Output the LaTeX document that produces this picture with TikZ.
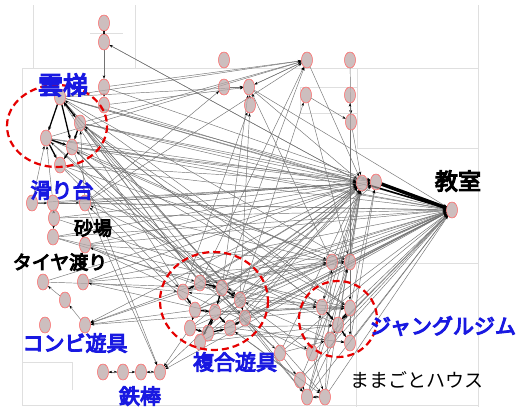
\documentclass[tikz,border=0pt]{standalone}
\usepackage{fontspec}
\newfontfamily\cjk{Noto Sans CJK JP}
\newfontfamily\cjkb{Noto Sans CJK JP}[FakeBold=5]
\usetikzlibrary{shapes.geometric,arrows.meta}
\definecolor{nodefill}{RGB}{205,190,190}
\definecolor{labblue}{RGB}{25,25,225}
\tikzset{
  nd/.style={ellipse,draw=red!55,fill=nodefill,minimum width=11pt,minimum height=16pt,inner sep=0pt,line width=0.4pt},
  edge/.style={draw=black!55,line width=0.45pt,-{Stealth[length=3.5pt,width=2.5pt,black]}},
  thk/.style={draw=black,line width=1.3pt,-{Stealth[length=4pt,width=3pt]}},
  grid/.style={draw=gray!25,line width=0.6pt},
  ring/.style={draw=red!90!black,line width=2.2pt,dash pattern=on 7pt off 4pt},
  bluelab/.style={text=labblue,font=\cjkb\fontsize{21}{21}\selectfont,inner sep=0pt},
  blacklab/.style={text=black,font=\cjkb\fontsize{19}{19}\selectfont,inner sep=0pt}
}
\begin{document}
\begin{tikzpicture}[x=1pt,y=-1pt]
\useasboundingbox (0,0) rectangle (520,407);
\fill[white] (0,0) rectangle (520,407);
% faint background frames
\draw[grid] (33,5)--(33,68) (135,5)--(135,68) (22,68)--(478,68) (478,5)--(478,407)
  (22,68)--(22,405) (22,405)--(478,405) (90,33)--(123,33)
  (300,87) rectangle (357,113) (357,68)--(357,148) (357,148)--(478,148)
  (327,263)--(478,263) (356,263)--(356,407) (22,362)--(72,362)--(72,390);
% nodes
\foreach \n/\x/\y in {t1/104/23,t2/104/42,t3/104/87,t4/104/105,
  u1/224/60,u2/224/87,u3/249/87,u4/250/105,
  v1/307/60,v2/350/60,v3/306/95,v4/350/95,v5/351/122,
  h1/362/183,h2/376/182,r1/452/210,
  a1/60/97,a2/80/123,a3/46/138,a4/72/147,a5/60/165,
  s1/32/203,s2/53/203,s3/85/203,s4/54/218,s5/53/237,s6/85/245,
  k1/43/282,k2/83/282,k3/65/300,k4/45/325,k5/85/325,
  b1/103/372,b2/123/372,b3/141/372,b4/160/372,
  c1/183/292,c2/200/283,c3/222/288,c4/240/300,c5/195/310,c6/215/312,
  c7/190/328,c8/208/333,c9/230/328,c10/245/318,c11/200/342,
  j1/332/262,j2/350/262,j3/322/307,j4/350/308,j5/338/325,j6/330/340,j7/350/343,
  m1/280/353,m2/312/353,m3/300/380,m4/307/397,m5/325/397}
  \node[nd] (\n) at (\x,\y) {};
% edges
\foreach \a/\b in {t1/t2,t2/t1,t2/t3,t3/t4,t2/h1,h1/t2,t4/u3,t3/v1,t4/h1,t3/h2,
  u2/u3,u3/v1,v1/u3,u4/u3,v3/v5,v2/v5,v4/v5,v5/h1,u3/h1,v3/j2,v1/h1,u3/r1,
  a1/h1,a1/r1,a2/h1,a2/r1,a3/h1,a4/h1,a4/j1,a4/c3,a2/c4,a1/u3,a3/v1,a1/j2,
  a2/j4,a4/r1,a5/h1,a5/c1,a3/m1,a1/v1,a2/v1,a5/r1,a4/h2,a2/j3,a1/m5,a2/m4,
  a1/h2,a3/r1,a5/j2,a2/h2,a4/j4,a3/j1,a5/m2,a1/c4,a4/c10,
  s1/s2,s2/s3,s2/s4,s4/s5,s3/h1,s3/r1,s3/j1,s2/h1,s5/h1,s5/c2,s6/h2,s6/c4,
  s4/j3,s1/a3,s2/a3,s3/a2,s3/v1,s6/r1,s5/j4,s3/u2,s2/r1,s4/h1,s5/r1,s1/h1,
  s3/h2,s6/j2,s4/r1,
  k3/k1,k5/k3,k2/r1,k2/c1,c1/k5,c2/k5,c5/k5,h1/k5,j3/k5,k2/h1,k1/c3,k2/j1,k1/h1,
  b1/b2,b2/b1,b2/b3,b3/b4,b4/b3,a4/b4,s3/b4,c7/b4,h1/b4,r1/b4,
  c1/h1,c2/h1,c3/h1,c3/h2,c4/h1,c4/r1,c5/r1,c6/j3,c6/j4,c7/j5,c8/j6,c9/j7,
  c10/r1,c2/v1,c3/u3,c1/u4,c4/v3,c9/m5,c10/m4,c2/a2,c1/a1,c5/s3,c6/k2,
  c11/r1,c7/h1,c8/h2,c5/j1,c11/j5,c9/h1,c6/r1,c3/v1,c4/u4,c1/r1,c2/r1,
  c1/j1,c2/j2,c4/j3,c10/j4,c7/r1,c8/r1,c9/r1,c3/r1,c5/h1,c10/h1,c2/a1,c3/a3,
  j1/j2,j3/j4,j3/j5,j4/j5,j5/j6,j6/j7,j4/j7,j1/j3,j2/j4,
  j1/h1,j2/h1,j1/r1,j2/r1,j3/r1,j4/r1,j5/r1,j6/r1,j7/r1,j1/u3,j2/v4,
  j3/a2,j4/a1,j5/s3,j6/c4,j3/c3,j5/h1,j7/h2,j6/h1,j3/h1,j4/h2,j1/c2,j4/c1,
  m1/m3,m3/m4,m4/m5,m5/m4,m2/m5,m5/r1,m4/r1,m5/j1,m4/j2,m2/h1,m1/h1,
  m3/c9,m1/a4,m2/s6,m2/r1,m1/r1,m3/r1,m4/h1,m5/h1,m2/j3,m1/j6,m3/j2,m4/j4}
  \draw[edge] (\a) -- (\b);
% thick edges
\foreach \a/\b in {a1/a3,a3/a4,a1/a4,a2/a4,a1/a2,a3/a5,a4/a5,
  c1/c2,c2/c3,c3/c6,c5/c6,c6/c9,c7/c8,c8/c9,c5/c7,c6/c8,c9/c10,c4/c10,c1/c5,c6/c11,c3/c4,
  j3/j5,j4/j5,j5/j7}
  \draw[thk] (\a) -- (\b);
\draw[black,line width=3.5pt] (h2) -- (r1);
\draw[black,line width=1.5pt] (h1) -- (r1);
% redraw nodes on top
\foreach \n in {t1,t2,t3,t4,u1,u2,u3,u4,v1,v2,v3,v4,v5,h1,h2,r1,a1,a2,a3,a4,a5,
  s1,s2,s3,s4,s5,s6,k1,k2,k3,k4,k5,b1,b2,b3,b4,c1,c2,c3,c4,c5,c6,c7,c8,c9,c10,c11,
  j1,j2,j3,j4,j5,j6,j7,m1,m2,m3,m4,m5}
  \node[nd,fill opacity=0.55,draw opacity=1] at (\n) {};
% red dashed rings
\draw[ring] (57,126) ellipse [x radius=50,y radius=41];
\draw[ring] (214,301) ellipse [x radius=54,y radius=49];
\draw[ring] (338,319) ellipse [x radius=39,y radius=38];
% labels
\node[bluelab,font=\cjkb\fontsize{25}{25}\selectfont] (l1) at (63,85) {雲梯};
\node[bluelab] (l2) at (62,190) {滑り台};
\node[blacklab] (l3) at (93,228) {砂場};
\node[blacklab] (l4) at (60,262) {タイヤ渡り};
\node[bluelab] (l5) at (75,343) {コンビ遊具};
\node[bluelab] (l6) at (140,396) {鉄棒};
\node[bluelab] (l7) at (235,362) {複合遊具};
\node[bluelab] (l8) at (443,326) {ジャングルジム};
\node[text=black,font=\cjk\fontsize{19}{19}\selectfont,inner sep=0pt] (l9) at (417,380) {ままごとハウス};
\node[text=black,font=\cjkb\fontsize{23}{23}\selectfont,inner sep=0pt] (l10) at (458,181) {教室};
\end{tikzpicture}
\end{document}
